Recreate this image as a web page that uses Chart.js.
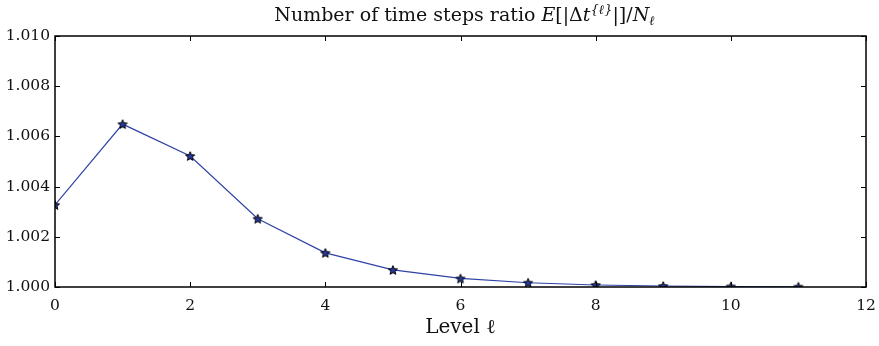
<!DOCTYPE html>
<html>
<head>
<meta charset="utf-8">
<script src="https://cdn.jsdelivr.net/npm/chart.js@4/dist/chart.umd.min.js"></script>
<style>
html,body{margin:0;padding:0;background:#fff;}
#wrap{width:879px;height:346px;position:relative;}
</style>
</head>
<body>
<div id="wrap"><canvas id="c" width="879" height="346"></canvas></div>
<script>
const levels = [0, 1, 2, 3, 4, 5, 6, 7, 8, 9, 10, 11];
const ratios = [1.00327, 1.00649, 1.00522, 1.00272, 1.00136, 1.00068, 1.00034, 1.00017, 1.00008, 1.00004, 1.00002, 1.00001];
const xTicks = [0, 2, 4, 6, 8, 10, 12];
const yTicks = [1.000, 1.002, 1.004, 1.006, 1.008, 1.010];

const FONT = '"DejaVu Serif", serif';
const LINE = '#2f43a6';

function makeStar(size) {
  const c = document.createElement('canvas');
  c.width = size; c.height = size;
  const g = c.getContext('2d');
  const cx = size / 2, cy = size / 2 + 0.5, R = size / 2 - 1.2, r = R * 0.45;
  g.beginPath();
  for (let i = 0; i < 10; i++) {
    const a = -Math.PI / 2 + i * Math.PI / 5;
    const rr = i % 2 === 0 ? R : r;
    const px = cx + rr * Math.cos(a), py = cy + rr * Math.sin(a);
    if (i === 0) g.moveTo(px, py); else g.lineTo(px, py);
  }
  g.closePath();
  g.fillStyle = '#26389a';
  g.fill();
  g.lineWidth = 1;
  g.strokeStyle = '#000';
  g.stroke();
  return c;
}
const star = makeStar(12);

const frame = {
  id: 'frame',
  afterDraw(chart) {
    const {ctx, chartArea: a, scales} = chart;
    ctx.save();
    ctx.strokeStyle = '#000';
    ctx.lineWidth = 1;
    const L = 5;
    xTicks.forEach(v => {
      const x = Math.round(scales.x.getPixelForValue(v)) + 0.5;
      ctx.beginPath();
      ctx.moveTo(x, a.bottom); ctx.lineTo(x, a.bottom - L);
      ctx.moveTo(x, a.top); ctx.lineTo(x, a.top + L);
      ctx.stroke();
    });
    yTicks.forEach(v => {
      const y = Math.round(scales.y.getPixelForValue(v)) + 0.5;
      ctx.beginPath();
      ctx.moveTo(a.left, y); ctx.lineTo(a.left + L, y);
      ctx.moveTo(a.right, y); ctx.lineTo(a.right - L, y);
      ctx.stroke();
    });
    ctx.lineWidth = 1.5;
    ctx.strokeRect(a.left, a.top, a.right - a.left, a.bottom - a.top);
    // title with math parts
    const S = 19, s = 13;
    const parts = [
      {t: 'Number of time steps ratio ', f: S + 'px ' + FONT, dy: 0},
      {t: 'E', f: 'italic ' + S + 'px ' + FONT, dy: 0},
      {t: '[|Δ', f: S + 'px ' + FONT, dy: 0},
      {t: 't', f: 'italic ' + S + 'px ' + FONT, dy: 0},
      {t: '{ℓ}', f: 'italic ' + s + 'px ' + FONT, dy: -7},
      {t: '|]/', f: S + 'px ' + FONT, dy: 0},
      {t: 'N', f: 'italic ' + S + 'px ' + FONT, dy: 0},
      {t: 'ℓ', f: 'italic ' + s + 'px ' + FONT, dy: 4}
    ];
    let w = 0;
    parts.forEach(p => { ctx.font = p.f; p.w = ctx.measureText(p.t).width; w += p.w; });
    let x = (a.left + a.right) / 2 - w / 2 + 4;
    const base = 21;
    ctx.fillStyle = '#111';
    ctx.textBaseline = 'alphabetic';
    ctx.textAlign = 'left';
    parts.forEach(p => { ctx.font = p.f; ctx.fillText(p.t, x, base + p.dy); x += p.w; });
    ctx.restore();
  }
};

new Chart(document.getElementById('c'), {
  type: 'line',
  data: {
    datasets: [{
      data: levels.map((l, i) => ({x: l, y: ratios[i]})),
      borderColor: LINE,
      borderWidth: 1.2,
      pointStyle: star,
      pointRadius: 6,
      pointHoverRadius: 6,
      tension: 0,
      fill: false
    }]
  },
  options: {
    responsive: false,
    animation: false,
    events: [],
    layout: {padding: {left: 0, right: 13, top: 36, bottom: 0}},
    plugins: {legend: {display: false}, tooltip: {enabled: false}, title: {display: false}},
    scales: {
      x: {
        type: 'linear', min: 0, max: 12,
        afterBuildTicks(s) { s.ticks = xTicks.map(v => ({value: v})); },
        afterFit(s) { s.height = 59; s.paddingLeft = 0; s.paddingRight = 0; },
        grid: {display: false, drawTicks: false},
        border: {display: false},
        ticks: {
          color: '#111', padding: 10, maxRotation: 0,
          font: {family: FONT, size: 15.5},
          callback: v => String(v)
        },
        title: {display: true, text: 'Level ℓ', color: '#111', font: {family: FONT, size: 20}, padding: {top: 2, bottom: 6}}
      },
      y: {
        type: 'linear', min: 1.000, max: 1.010,
        afterBuildTicks(s) { s.ticks = yTicks.map(v => ({value: v})); },
        afterFit(s) { s.width = 55; s.paddingTop = 0; s.paddingBottom = 0; },
        grid: {display: false, drawTicks: false},
        border: {display: false},
        ticks: {
          color: '#111', padding: 5,
          font: {family: FONT, size: 15.5},
          callback: v => Number(v).toFixed(3)
        }
      }
    }
  },
  plugins: [frame]
});
</script>
</body>
</html>
